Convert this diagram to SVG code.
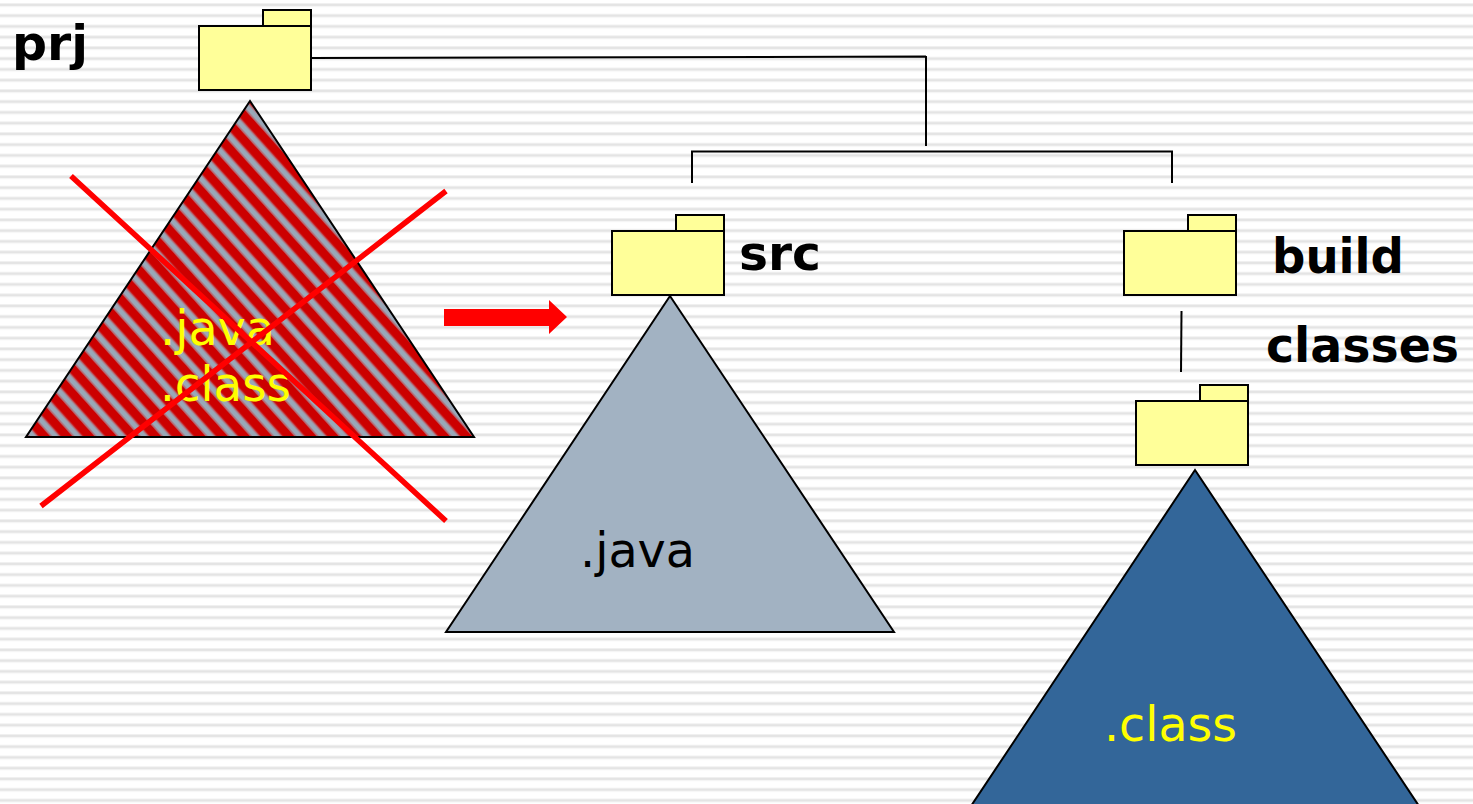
<svg xmlns="http://www.w3.org/2000/svg" width="1473" height="804" viewBox="0 0 1473 804">
<style>
.fold{fill:#ffff99;stroke:#000;stroke-width:2}
.tri{stroke:#000;stroke-width:2;stroke-linejoin:miter}
.conn{fill:none;stroke:#000;stroke-width:2}
.x{stroke:#f00;stroke-width:5.500;fill:none}
.lab{font-family:"DejaVu Sans",sans-serif;font-weight:700;font-size:48px;fill:#000}
.reg{font-family:"DejaVu Sans",sans-serif;font-size:48px}
</style>
<defs>
<pattern id="bg" patternUnits="userSpaceOnUse" width="10" height="10.75" y="3">
<rect width="10" height="10.75" fill="#fff"/>
<rect y="0" width="10" height="1" fill="#f0f0f0"/>
<rect y="1" width="10" height="2" fill="#e4e4e4"/>
<rect y="3" width="10" height="1" fill="#f4f4f4"/>
</pattern>
<pattern id="hatch" patternUnits="userSpaceOnUse" width="16.500" height="16.500" patternTransform="translate(87 348) rotate(-42) translate(-4 0)">
<rect width="16.500" height="16.500" fill="#cc0000"/>
<rect x="0" width="8" height="16.500" fill="#b85f68"/>
<rect x="1.500" width="5" height="16.500" fill="#99a8b8"/>
</pattern>
<g id="folder"><rect class="fold" x="64" y="0" width="48" height="16"/><rect class="fold" x="0" y="16" width="112" height="64"/></g>
</defs>
<rect width="1473" height="804" fill="url(#bg)"/>
<g id="connectors">
<path class="conn" d="M311 58L926 56.500M926 56L926 146"/>
<path class="conn" d="M692 183V151.500H1172V183"/>
<path class="conn" d="M1181.500 311L1181 372"/>
</g>
<g id="prj-tree"><path class="tri" d="M250 101L474 437H26Z" fill="url(#hatch)"/><text class="reg" x="160" y="345" fill="#ff0" textLength="115" lengthAdjust="spacingAndGlyphs">.java</text><text class="reg" x="160" y="401" fill="#ff0" textLength="131" lengthAdjust="spacingAndGlyphs">.class</text></g>
<g id="cross"><path class="x" d="M71 176L446 521M446 191L41 506"/></g>
<g id="arrow"><path d="M444 309H549V300L567 317L549 334V326H444Z" fill="#f00"/></g>
<g id="prj"><use href="#folder" x="199" y="10"/><text class="lab" x="12" y="60" textLength="76" lengthAdjust="spacingAndGlyphs">prj</text></g>
<g id="src-tree"><path class="tri" d="M670 296L894 632H446Z" fill="#a2b2c2"/><text class="reg" x="580" y="567" fill="#000" textLength="115" lengthAdjust="spacingAndGlyphs">.java</text></g>
<g id="src"><use href="#folder" x="612" y="215"/><text class="lab" x="739" y="270" textLength="82" lengthAdjust="spacingAndGlyphs">src</text></g>
<g id="build"><use href="#folder" x="1124" y="215"/><text class="lab" x="1272" y="273" textLength="132" lengthAdjust="spacingAndGlyphs">build</text></g>
<g id="classes-tree"><path class="tri" d="M1195 470L1419 806H971Z" fill="#336699"/><text class="reg" x="1104" y="741" fill="#ff0" textLength="133" lengthAdjust="spacingAndGlyphs">.class</text></g>
<g id="classes"><use href="#folder" x="1136" y="385"/><text class="lab" x="1266" y="362" textLength="193" lengthAdjust="spacingAndGlyphs">classes</text></g>
</svg>
